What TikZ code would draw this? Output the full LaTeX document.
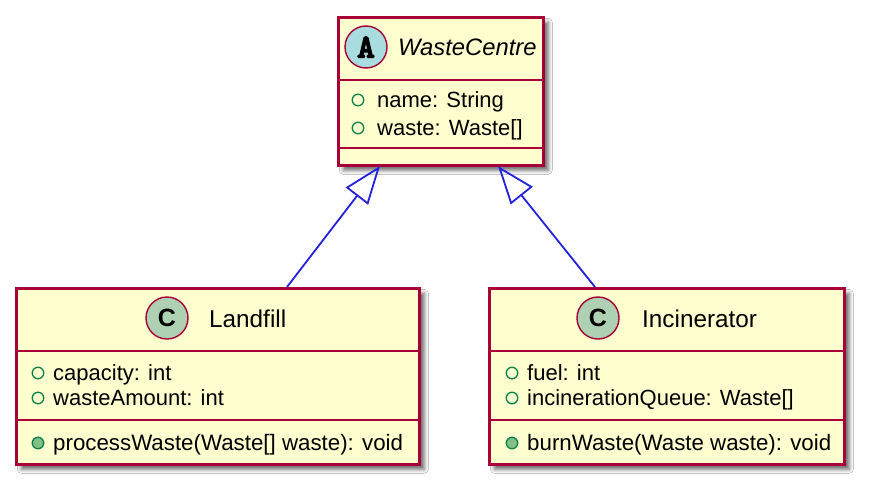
\documentclass[tikz,border=0pt]{standalone}
\usepackage{fontspec}
\setmainfont{Liberation Sans}
\newfontfamily\heavyA[FakeBold=3.5]{lmmonolt10-bold.otf}
\usetikzlibrary{arrows.meta,shadows.blur}
\definecolor{boxfill}{HTML}{FEFECE}
\definecolor{bord}{HTML}{A80036}
\definecolor{arrowblue}{HTML}{2222DD}
\definecolor{afill}{HTML}{A9DCDF}
\definecolor{cfill}{HTML}{ADD1B2}
\definecolor{vgreen}{HTML}{038048}
\definecolor{mfill}{HTML}{84BE84}
\begin{document}
\begin{tikzpicture}[x=1pt,y=-1pt,
  cbox/.style={rectangle, draw=bord, fill=boxfill, line width=2.5pt, inner sep=0pt, anchor=north west,
    blur shadow={shadow xshift=5pt, shadow yshift=-5pt, shadow blur radius=4pt, shadow opacity=60}},
  sepl/.style={draw=bord, line width=2.5pt},
  icon/.style={circle, draw=bord, line width=1.4pt, minimum size=42pt, inner sep=0pt},
  fieldv/.style={circle, draw=vgreen, line width=1.3pt, minimum size=11.5pt, inner sep=0pt},
  methv/.style={fieldv, fill=mfill},
  txt/.style={anchor=west, inner sep=0pt, font=\fontsize{22}{26}\selectfont, text height=18pt, text depth=4pt},
  head/.style={anchor=west, inner sep=0pt, font=\fontsize{24.3}{28}\selectfont, text height=20pt, text depth=3pt},
  inh/.style={draw=arrowblue, line width=1.8pt, -{Triangle[open, length=38pt, width=28pt, line width=1.8pt]}}
]
\useasboundingbox[fill=white] (0,0) rectangle (870,490);

% WasteCentre
\node[cbox, minimum width=205pt, minimum height=148pt] (wc) at (337,16) {};
\coordinate (wcs1l) at (337,80); \coordinate (wcs1r) at (542,80);
\coordinate (wcs2l) at (337,148); \coordinate (wcs2r) at (542,148);
\draw[sepl] (wcs1l) -- (wcs1r);
\draw[sepl] (wcs2l) -- (wcs2r);
\node[icon, fill=afill] (wcicon) at (366,47) {\heavyA\fontsize{34}{36}\selectfont A};
\node[head, font=\fontsize{23.8}{28}\selectfont\itshape] (wcname) at (398,47) {WasteCentre};
\node[fieldv] (wcv1) at (358,100) {};
\node[txt] (wcf1) at (377,100) {name: String};
\node[fieldv] (wcv2) at (358,128) {};
\node[txt] (wcf2) at (377,128) {waste: Waste[]};

% Landfill
\node[cbox, minimum width=403pt, minimum height=176pt] (lf) at (15,287) {};
\coordinate (lfs1l) at (15,351); \coordinate (lfs1r) at (418,351);
\coordinate (lfs2l) at (15,420); \coordinate (lfs2r) at (418,420);
\draw[sepl] (lfs1l) -- (lfs1r);
\draw[sepl] (lfs2l) -- (lfs2r);
\node[icon, fill=cfill] (lficon) at (167,318) {\fontsize{25}{28}\selectfont\bfseries C};
\node[head] (lfname) at (209,319) {Landfill};
\node[fieldv] (lfv1) at (38,373) {};
\node[txt] (lff1) at (53,373) {capacity: int};
\node[fieldv] (lfv2) at (38,398) {};
\node[txt] (lff2) at (53,398) {wasteAmount: int};
\node[methv] (lfv3) at (38,443) {};
\node[txt, font=\fontsize{22.3}{26}\selectfont] (lfm1) at (53,443) {processWaste(Waste[] waste): void};

% Incinerator
\node[cbox, minimum width=355pt, minimum height=176pt] (in) at (488,287) {};
\coordinate (ins1l) at (488,351); \coordinate (ins1r) at (843,351);
\coordinate (ins2l) at (488,420); \coordinate (ins2r) at (843,420);
\draw[sepl] (ins1l) -- (ins1r);
\draw[sepl] (ins2l) -- (ins2r);
\node[icon, fill=cfill] (inicon) at (598,318) {\fontsize{25}{28}\selectfont\bfseries C};
\node[head] (inname) at (642,319) {Incinerator};
\node[fieldv] (inv1) at (512,373) {};
\node[txt] (inf1) at (527,373) {fuel: int};
\node[fieldv] (inv2) at (512,398) {};
\node[txt] (inf2) at (527,398) {incinerationQueue: Waste[]};
\node[methv] (inv3) at (512,443) {};
\node[txt, font=\fontsize{22.3}{26}\selectfont] (inm1) at (527,443) {burnWaste(Waste waste): void};

% inheritance connectors
\coordinate (lfa) at (287,287);
\coordinate (wca1) at (380,166);
\coordinate (ina) at (595,287);
\coordinate (wca2) at (498,166);
\draw[inh] (lfa) -- (wca1);
\draw[inh] (ina) -- (wca2);
\end{tikzpicture}
\end{document}
